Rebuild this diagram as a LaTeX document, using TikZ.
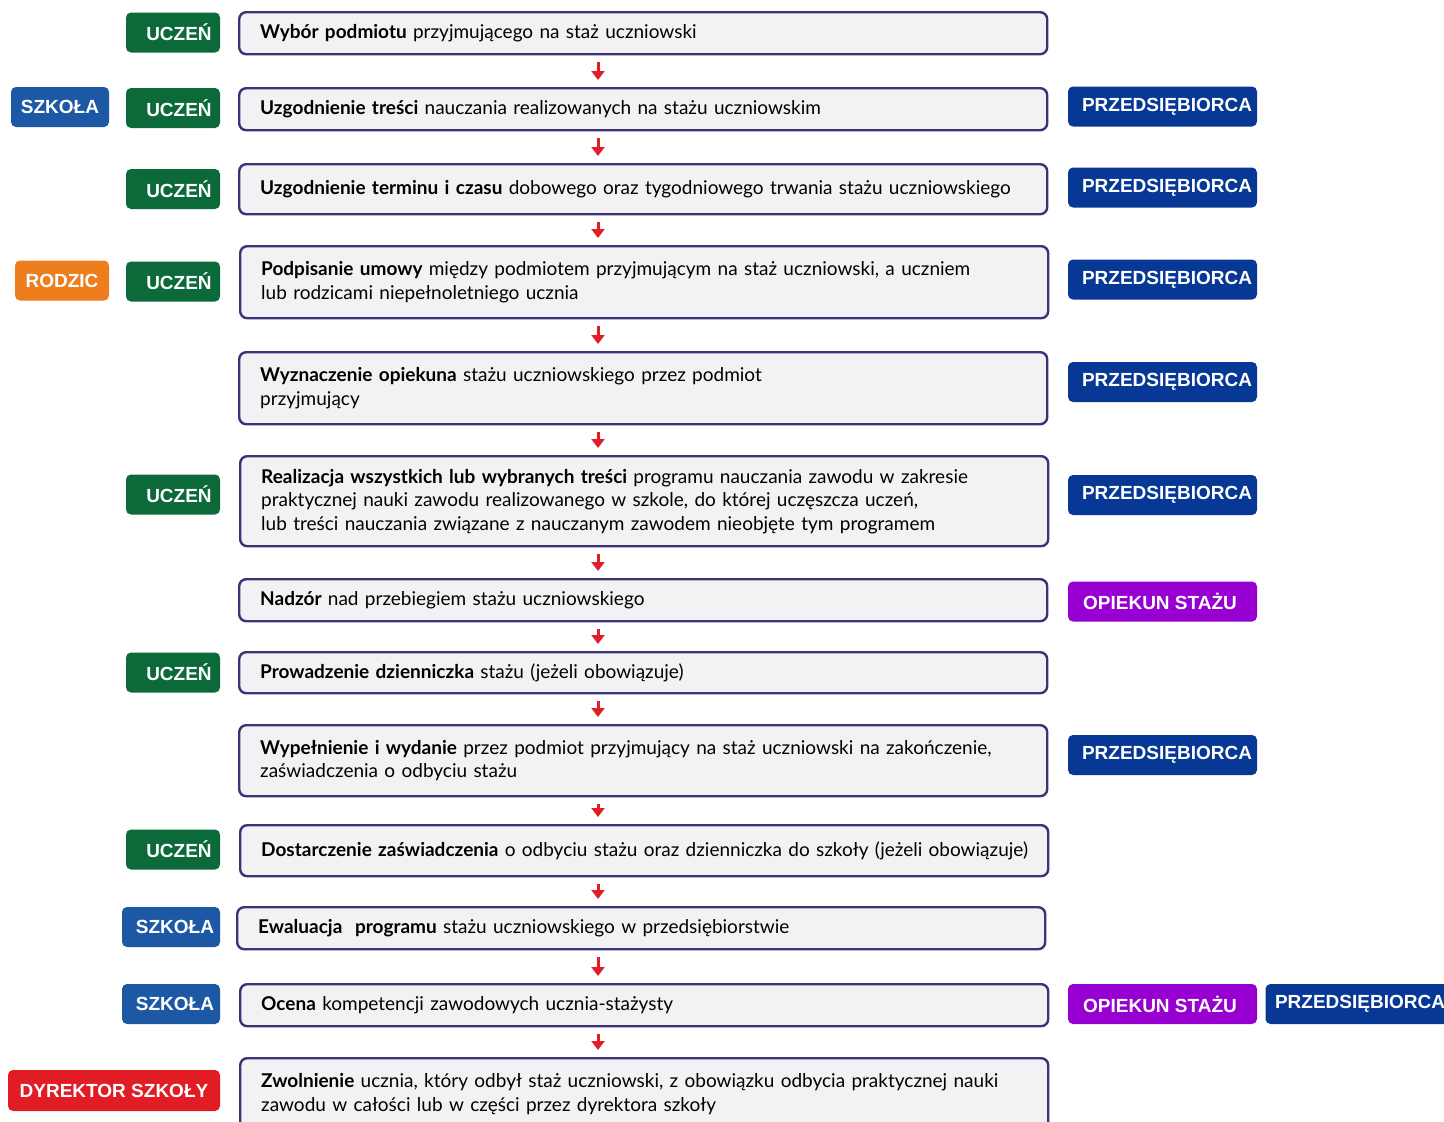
\documentclass[tikz,border=0pt]{standalone}
\usepackage{fontspec}
\setmainfont{Lato}
\newfontfamily\tagfont{Liberation Sans}
\usetikzlibrary{arrows.meta}
\definecolor{boxc}{RGB}{60,50,120}
\definecolor{boxf}{RGB}{242,242,245}
\definecolor{arrc}{RGB}{225,30,40}
\definecolor{uczc}{RGB}{12,106,58}
\definecolor{szkc}{RGB}{28,88,164}
\definecolor{przc}{RGB}{8,56,150}
\definecolor{opic}{RGB}{152,0,210}
\definecolor{rodc}{RGB}{238,125,30}
\definecolor{dyrc}{RGB}{226,28,36}
\newcommand{\lne}[1]{\mbox{#1}}
\begin{document}
\begin{tikzpicture}[x=1pt,y=-1pt,
  box/.style={draw=boxc, line width=2.4pt, fill=boxf, rounded corners=7pt, anchor=north west,
    inner xsep=21pt, inner ysep=0pt, text width=766pt, align=left,
    font=\fontsize{19}{23.5}\selectfont},
  tag/.style={rounded corners=5pt, text=white, font=\tagfont\bfseries\fontsize{19}{22}\selectfont,
    minimum height=40pt, inner sep=0pt},
  ucz/.style={tag, fill=uczc, minimum width=94pt, execute at begin node={\hspace*{12pt}}},
  szk/.style={tag, fill=szkc, minimum width=98pt},
  szkr/.style={szk, execute at begin node={\hspace*{8pt}}},
  przn/.style={tag, fill=przc, minimum width=189pt},
  prz/.style={przn, execute at begin node={\hspace*{9pt}}},
  opi/.style={tag, fill=opic, minimum width=189pt, execute at begin node={\hspace*{-5pt}}},
  rod/.style={tag, fill=rodc, minimum width=94pt},
  dyr/.style={tag, fill=dyrc, minimum width=212pt, minimum height=41pt},
  arr/.style={draw=arrc, line width=3pt, -{Triangle[width=13pt,length=9pt]}, shorten <=7pt, shorten >=7pt}
]
\useasboundingbox (0,0) rectangle (1444,1122);
\clip (0,0) rectangle (1444,1122);
\fill[white] (0,0) rectangle (1444,1122);
\coordinate (ax) at (598,0);

\node[box, minimum height=42pt] (b1) at (238,11) {\lne{\textbf{Wybór podmiotu} przyjmującego na staż uczniowski}};
\node[box, minimum height=42pt] (b2) at (238,87) {\lne{\textbf{Uzgodnienie treści} nauczania realizowanych na stażu uczniowskim}};
\node[box, minimum height=50pt] (b3) at (238,163) {\lne{\textbf{Uzgodnienie terminu i czasu} dobowego oraz tygodniowego trwania stażu uczniowskiego}};
\node[box, minimum height=72pt] (b4) at (239,245) {\lne{\textbf{Podpisanie umowy} między podmiotem przyjmującym na staż uczniowski, a uczniem}\\\lne{lub rodzicami niepełnoletniego ucznia}};
\node[box, minimum height=72pt] (b5) at (238,351) {\lne{\textbf{Wyznaczenie opiekuna} stażu uczniowskiego przez podmiot}\\\lne{przyjmujący}};
\node[box, minimum height=90pt] (b6) at (239,455) {\lne{\textbf{Realizacja wszystkich lub wybranych treści} programu nauczania zawodu w zakresie}\\\lne{praktycznej nauki zawodu realizowanego w szkole, do której uczęszcza uczeń,}\\\lne{lub treści nauczania związane z nauczanym zawodem nieobjęte tym programem}};
\node[box, minimum height=42pt] (b7) at (238,578) {\lne{\textbf{Nadzór} nad przebiegiem stażu uczniowskiego}};
\node[box, minimum height=41pt] (b8) at (238,651) {\lne{\textbf{Prowadzenie dzienniczka} stażu (jeżeli obowiązuje)}};
\node[box, minimum height=71pt] (b9) at (238,724) {\lne{\textbf{Wypełnienie i wydanie} przez podmiot przyjmujący na staż uczniowski na zakończenie,}\\\lne{zaświadczenia o odbyciu stażu}};
\node[box, minimum height=51pt] (b10) at (239,824) {\lne{\textbf{Dostarczenie zaświadczenia} o odbyciu stażu oraz dzienniczka do szkoły (jeżeli obowiązuje)}};
\node[box, minimum height=42pt] (b11) at (236,906) {\lne{\textbf{Ewaluacja\ \ programu} stażu uczniowskiego w przedsiębiorstwie}};
\node[box, minimum height=42pt] (b12) at (239,983) {\lne{\textbf{Ocena} kompetencji zawodowych ucznia-stażysty}};
\node[box, minimum height=72pt] (b13) at (239,1057) {\lne{\textbf{Zwolnienie} ucznia, który odbył staż uczniowski, z obowiązku odbycia praktycznej nauki}\\\lne{zawodu w całości lub w części przez dyrektora szkoły}};

\foreach \a/\b in {b1/b2,b2/b3,b3/b4,b4/b5,b5/b6,b6/b7,b7/b8,b8/b9,b9/b10,b10/b11,b11/b12,b12/b13}
  \draw[arr] (\a.south -| ax) -- (\b.north -| ax);

% left tags
\node[ucz] (u1) at (173,32.5) {UCZEŃ};
\node[ucz] (u2) at (173,108) {UCZEŃ};
\node[szk] (s2) at (60,107) {SZKOŁA};
\node[ucz] (u3) at (173,189) {UCZEŃ};
\node[rod] (r4) at (62,280.5) {RODZIC};
\node[ucz] (u4) at (173,281.5) {UCZEŃ};
\node[ucz] (u6) at (173,494.5) {UCZEŃ};
\node[ucz] (u8) at (173,672.5) {UCZEŃ};
\node[ucz] (u10) at (173,849.5) {UCZEŃ};
\node[szkr] (s11) at (171,927) {SZKOŁA};
\node[szkr] (s12) at (171,1004) {SZKOŁA};
\node[dyr] (d13) at (114,1090.5) {DYREKTOR SZKOŁY};

% right tags
\node[prz] (p2) at (1162.5,106.5) {PRZEDSIĘBIORCA};
\node[prz] (p3) at (1162.5,187.5) {PRZEDSIĘBIORCA};
\node[prz] (p4) at (1162.5,279.5) {PRZEDSIĘBIORCA};
\node[prz] (p5) at (1162.5,382) {PRZEDSIĘBIORCA};
\node[prz] (p6) at (1162.5,495) {PRZEDSIĘBIORCA};
\node[opi] (o7) at (1162.5,601.5) {OPIEKUN STAŻU};
\node[prz] (p9) at (1162.5,755) {PRZEDSIĘBIORCA};
\node[opi] (o12) at (1162.5,1004) {OPIEKUN STAŻU};
\node[przn] (p12) at (1360,1004) {PRZEDSIĘBIORCA};
\end{tikzpicture}
\end{document}
